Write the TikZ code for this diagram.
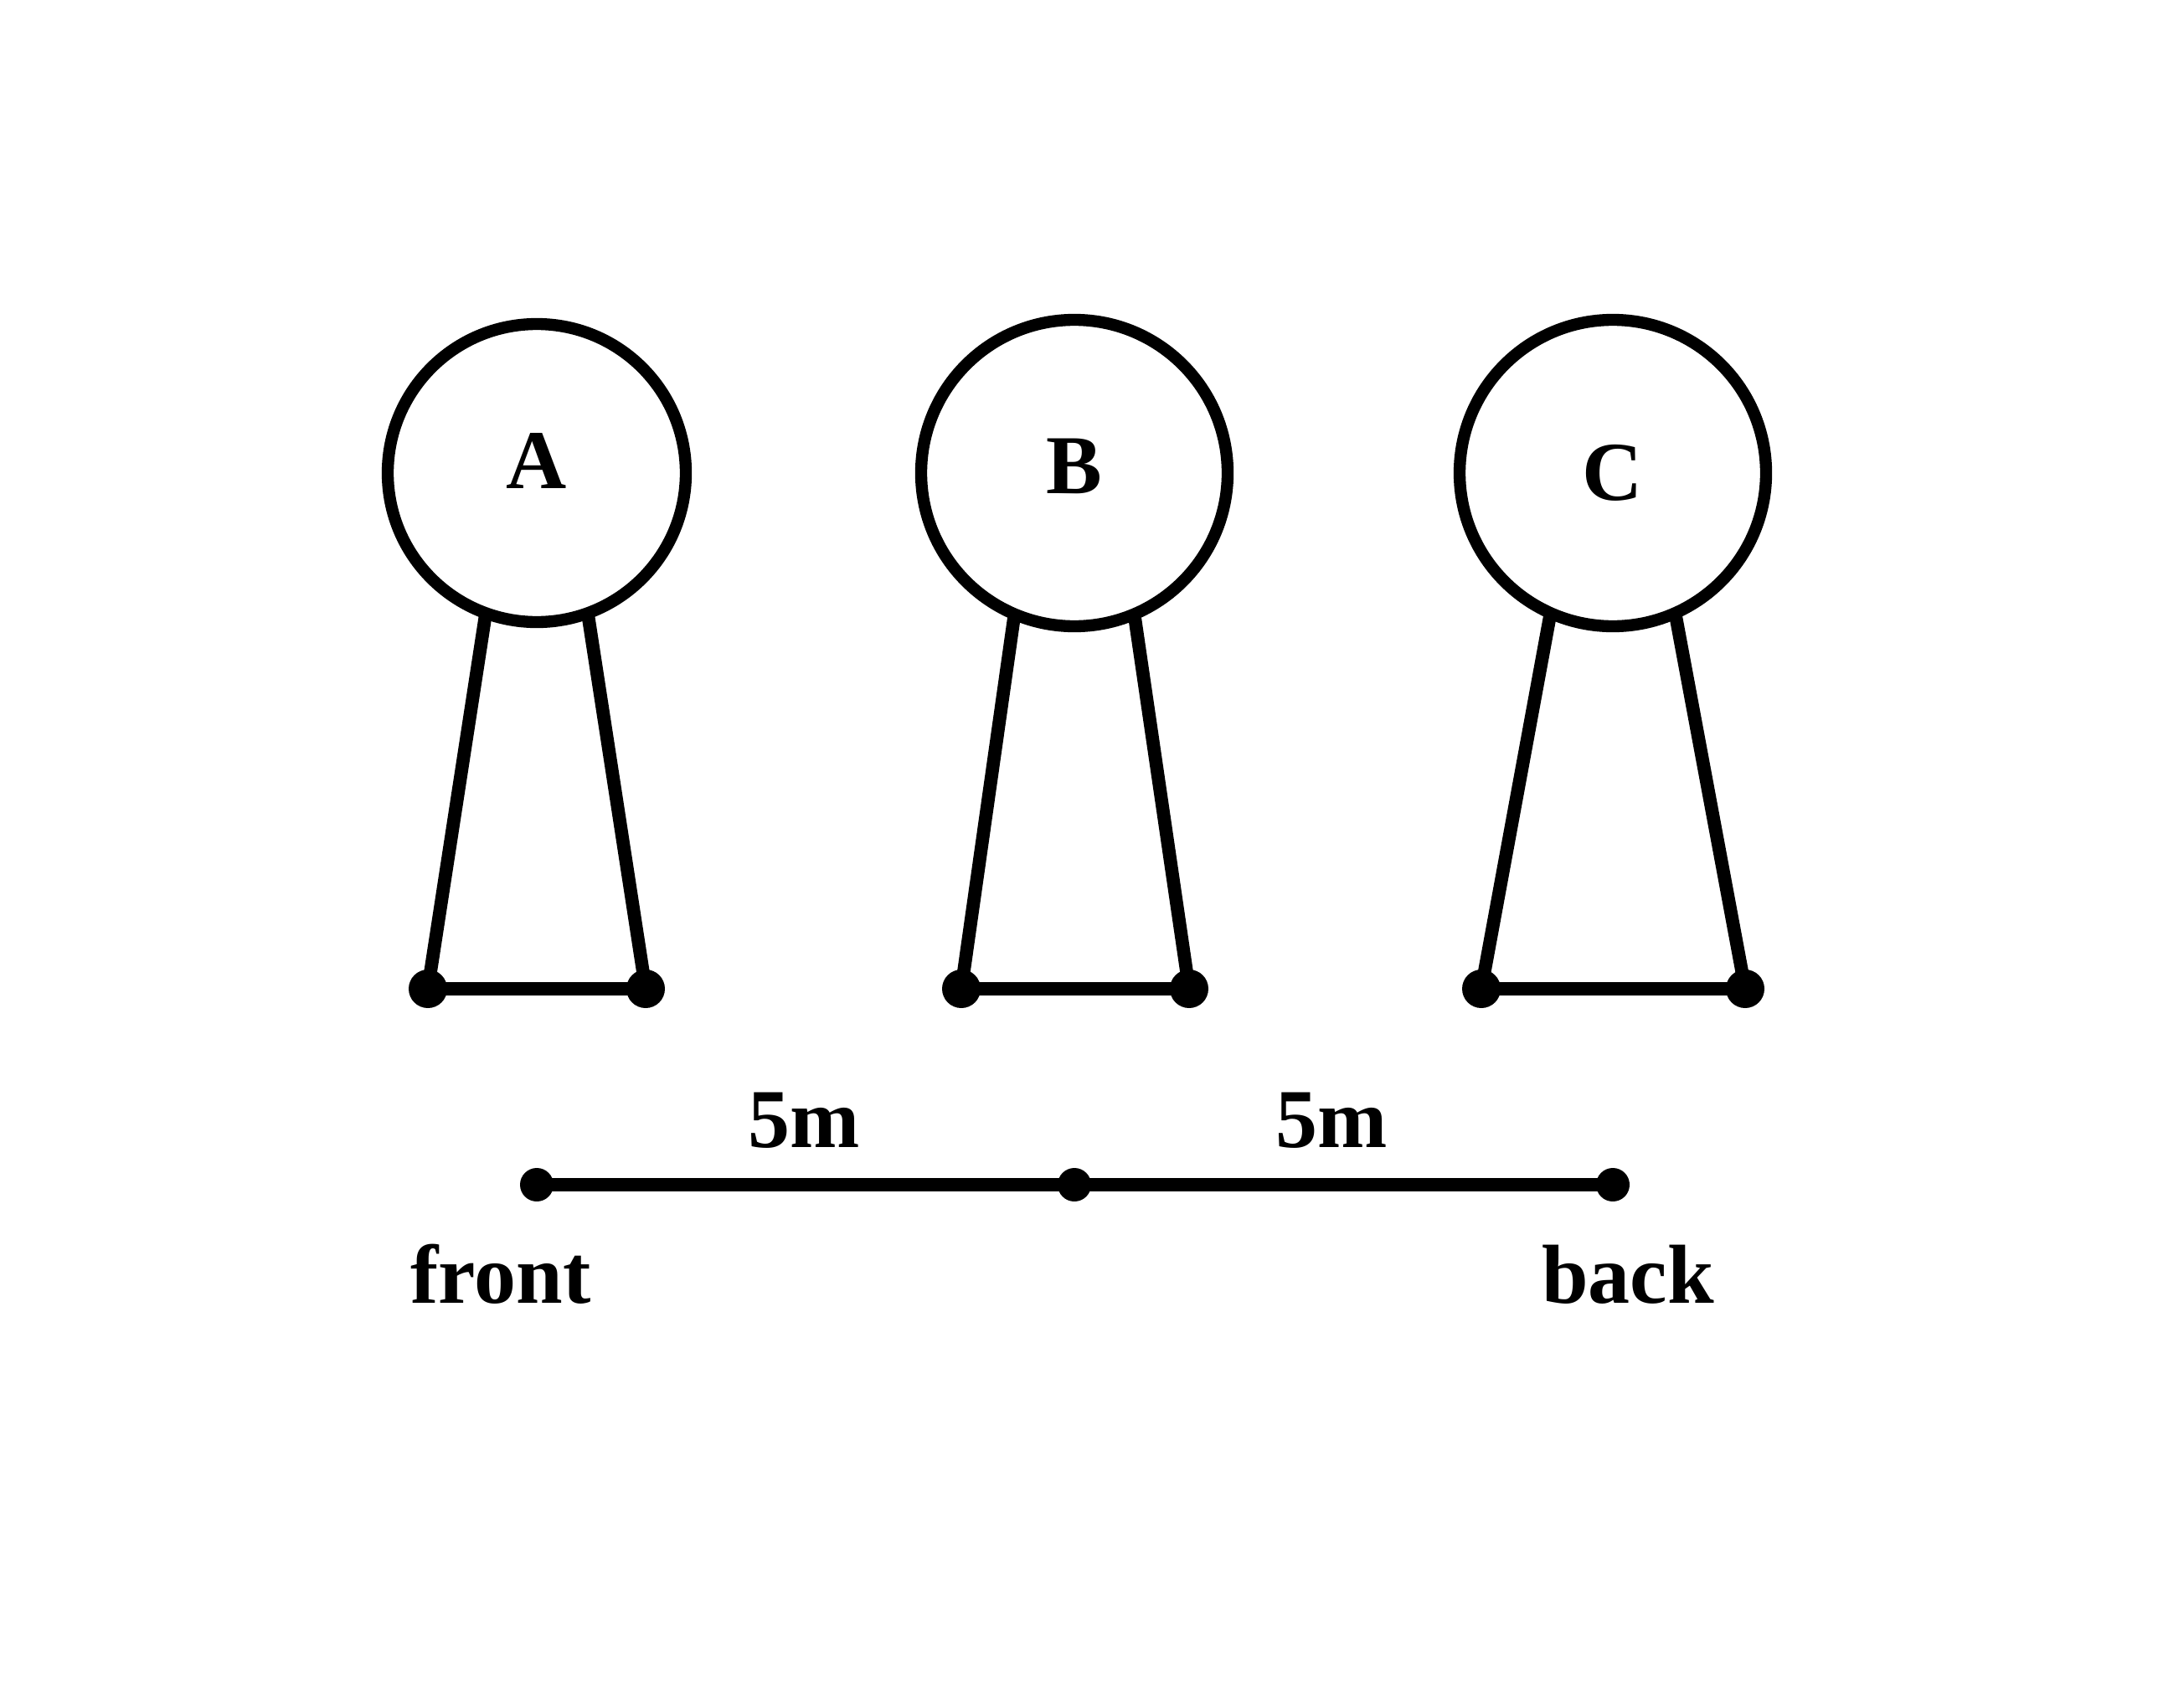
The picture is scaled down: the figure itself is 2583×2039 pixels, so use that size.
\documentclass[tikz,border=0pt]{standalone}
\usepackage{fontspec}
\setmainfont{Liberation Serif}
\usepackage{tikz}
\usetikzlibrary{positioning}

\begin{document}
\begin{tikzpicture}[x=0.3pt, y=-0.3pt,
    every node/.style={font=\bfseries\fontsize{30}{36}\selectfont},
    head/.style={draw,circle,line width=4.3pt,outer sep=0pt,inner sep=0pt},
    foot/.style={circle,fill=black,inner sep=0pt,minimum size=13.8pt},
    tick/.style={circle,fill=black,inner sep=0pt,minimum size=12pt},
    leg/.style={line width=4.7pt}]
  \useasboundingbox (0,0) rectangle (2583,2039);

  % the three people
  \node[head,minimum size=106.8pt,text depth=9pt] (A) at (641,565) {A};
  \node[head,minimum size=109.8pt,text depth=5pt] (B) at (1283,565) {B};
  \node[head,minimum size=109.8pt] (C) at (1926,565) {C};

  \node[foot] (a1) at (511,1181) {};
  \node[foot] (a2) at (771,1181) {};
  \node[foot] (b1) at (1148,1181) {};
  \node[foot] (b2) at (1420,1181) {};
  \node[foot] (c1) at (1769,1181) {};
  \node[foot] (c2) at (2084,1181) {};

  \draw[leg] (A.250) -- (a1.center) -- (a2.center) -- (A.290);
  \draw[leg] (B.247) -- (b1.center) -- (b2.center) -- (B.293);
  \draw[leg] (C.246) -- (c1.center) -- (c2.center) -- (C.294);

  % distance scale
  \node[tick] (s1) at (641,1415) {};
  \node[tick] (s2) at (1283,1415) {};
  \node[tick] (s3) at (1926,1415) {};
  \draw[line width=4.8pt] (s1.center) -- (s2.center) -- (s3.center);

  \node (d1) at (960,1338) {5m};
  \node (d2) at (1590,1338) {5m};
  \node (front) at (598,1522) {front};
  \node (back) at (1944,1522) {back};
\end{tikzpicture}
\end{document}
